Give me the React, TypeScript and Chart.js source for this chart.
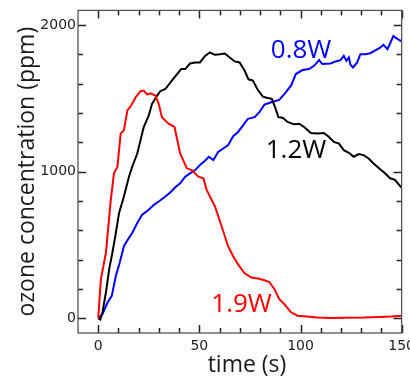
import React, { useEffect, useRef } from "react";
import { Chart, registerables } from "chart.js";

Chart.register(...registerables);

// ---- data (time in s, ozone in ppm) ----
const t19 = [0, 1.3, 3.8, 6.2, 7.8, 9.5, 11.1, 12.7, 14.4, 16, 18.5, 20.9, 22.5, 24.2, 25.8, 28.3, 29.9, 31.5, 34.8, 37.7, 40.5, 43.8, 46.2, 49.5, 52, 53.6, 57.7, 61, 64.2, 66.7, 69.1, 72.4, 75.7, 78.9, 82.2, 84.6, 87.1, 89.5, 92, 95.3, 98.5, 101.8, 108.3, 114.9, 122, 131, 139.4, 145, 150];
const ppm19 = [0, 266, 447, 808, 989, 1034, 1260, 1282, 1418, 1445, 1508, 1549, 1553, 1526, 1535, 1519, 1463, 1372, 1327, 1305, 1124, 1023, 1011, 966, 955, 876, 763, 628, 492, 424, 368, 307, 278, 271, 260, 248, 199, 131, 97, 41, 18, 14, 5, 2, 4, 5, 9, 12, 18];

const t12 = [0, 1, 2.1, 3.8, 5.4, 7, 8.7, 10.3, 12.7, 15.2, 16.8, 19.3, 20.9, 22.5, 25, 26.6, 29.1, 30.7, 33.2, 36.4, 39.7, 41, 43, 45.4, 47.9, 50.3, 52.8, 55.2, 57.7, 60.1, 62.6, 65, 67.5, 69.9, 72.4, 74.3, 76.5, 78.6, 81.4, 83.8, 85.8, 87.4, 89.1, 91.2, 93.6, 96.9, 99.3, 101.8, 105.1, 108.3, 111.6, 114.1, 116.5, 119, 121.4, 123.9, 126.3, 128.8, 131.2, 133.7, 136.1, 139.4, 141.8, 144.3, 146.7, 150];
const ppm12 = [0, -8, 41, 176, 334, 447, 582, 718, 831, 966, 1034, 1124, 1214, 1305, 1384, 1463, 1519, 1549, 1564, 1621, 1677, 1700, 1700, 1738, 1745, 1745, 1790, 1813, 1797, 1801, 1806, 1779, 1752, 1745, 1688, 1630, 1621, 1564, 1512, 1503, 1497, 1440, 1372, 1368, 1339, 1323, 1327, 1305, 1264, 1260, 1264, 1237, 1203, 1192, 1147, 1129, 1102, 1120, 1113, 1090, 1056, 1016, 989, 955, 944, 890];

const t08 = [0, 2.1, 4.6, 6.7, 8.7, 10.6, 12.7, 15.2, 16.8, 19.3, 21.7, 25, 27.5, 29.9, 33.2, 35.6, 38.1, 40.5, 43, 45.4, 47.9, 50.3, 52.8, 54.7, 56.9, 59.3, 61.8, 64.2, 66.7, 69.1, 71.6, 74, 77.3, 79.7, 82.2, 85.5, 89.5, 92.8, 95.3, 97.7, 101, 104.2, 106.7, 109.2, 110.8, 114.9, 117.3, 119.8, 121.4, 122.7, 123.9, 124.7, 126, 128, 129.6, 132, 134.5, 137, 139.4, 141, 143, 145.9, 147.5, 150];
const ppm08 = [0, 29, 108, 153, 289, 379, 492, 549, 582, 650, 707, 740, 774, 797, 831, 858, 894, 921, 966, 989, 1011, 1045, 1075, 1102, 1079, 1135, 1158, 1181, 1242, 1271, 1316, 1361, 1372, 1406, 1458, 1474, 1490, 1542, 1587, 1666, 1693, 1700, 1722, 1761, 1734, 1738, 1752, 1761, 1790, 1756, 1779, 1729, 1711, 1745, 1801, 1801, 1808, 1828, 1846, 1865, 1835, 1925, 1909, 1888];

const seriesNames = ["1.9W", "1.2W", "0.8W"];
const seriesColors = ["#ff0000", "#000000", "#0000ff"];
// label anchor (left, baseline) in data coords
const labelX = [55.9, 82.8, 85.3];
const labelY = [42, 1096, 1776];

const xTickLabels = [0, 50, 100, 150];
const xMinorTicks = [10, 20, 30, 40, 60, 70, 80, 90, 110, 120, 130, 140];
const yTickLabels = [0, 1000, 2000];
const yMinorTicks = [200, 400, 600, 800, 1200, 1400, 1600, 1800];

const xTitle = "time (s)";
const yTitle = "ozone concentration (ppm)";

const FONT = "'Open Sans', 'DejaVu Sans', sans-serif";
const TICK_FONT = "'DejaVu Sans', sans-serif";

const zip = (xs: number[], ys: number[]) => xs.map((x, i) => ({ x, y: ys[i] }));

const tickPlugin = {
  id: "inwardTicks",
  afterDatasetsDraw(chart: any) {
    const { ctx, chartArea, scales } = chart;
    const xs = scales.x;
    const ys = scales.y;
    const { left, right, top, bottom } = chartArea;
    ctx.save();
    ctx.setLineDash([]);
    ctx.globalAlpha = 1;
    ctx.lineCap = "butt";
    ctx.strokeStyle = "#222222";
    ctx.lineWidth = 1.5;
    const major = 8;
    const minor = 5;
    for (const v of xTickLabels.concat(xMinorTicks)) {
      const len = xTickLabels.includes(v) ? major : minor;
      const px = Math.round(xs.getPixelForValue(v)) + 0.5;
      ctx.beginPath();
      ctx.moveTo(px, bottom);
      ctx.lineTo(px, bottom - len);
      ctx.stroke();
      ctx.beginPath();
      ctx.moveTo(px, top);
      ctx.lineTo(px, top + len);
      ctx.stroke();
    }
    for (const v of yTickLabels.concat(yMinorTicks)) {
      const len = yTickLabels.includes(v) ? major : minor;
      const py = Math.round(ys.getPixelForValue(v)) + 0.5;
      ctx.beginPath();
      ctx.moveTo(left, py);
      ctx.lineTo(left + len, py);
      ctx.stroke();
      ctx.beginPath();
      ctx.moveTo(right, py);
      ctx.lineTo(right - len, py);
      ctx.stroke();
    }
    ctx.restore();
  },
};

const framePlugin = {
  id: "frameAndText",
  afterDraw(chart: any) {
    const { ctx, chartArea, scales } = chart;
    const xs = scales.x;
    const ys = scales.y;
    const { left, right, top, bottom } = chartArea;
    ctx.save();
    // frame
    ctx.strokeStyle = "#555";
    ctx.lineWidth = 1.3;
    ctx.strokeRect(left, top, right - left, bottom - top);

    // axis titles
    ctx.fillStyle = "#1a1a1a";
    ctx.font = `23px ${FONT}`;
    ctx.textAlign = "center";
    ctx.textBaseline = "middle";
    ctx.fillText(xTitle, 247, 365);
    ctx.save();
    ctx.translate(27, (top + bottom) / 2);
    ctx.rotate(-Math.PI / 2);
    ctx.fillText(yTitle, 0, 0);
    ctx.restore();

    // series labels
    ctx.font = `26px ${FONT}`;
    ctx.textAlign = "left";
    ctx.textBaseline = "alphabetic";
    seriesNames.forEach((n, i) => {
      ctx.fillStyle = seriesColors[i];
      ctx.fillText(n, xs.getPixelForValue(labelX[i]), ys.getPixelForValue(labelY[i]));
    });
    ctx.restore();
  },
};

export default function App() {
  const ref = useRef<HTMLCanvasElement | null>(null);
  useEffect(() => {
    if (!ref.current) return;
    const chart = new Chart(ref.current, {
      type: "line",
      data: {
        datasets: [
          { label: seriesNames[0], data: zip(t19, ppm19), borderColor: seriesColors[0] },
          { label: seriesNames[1], data: zip(t12, ppm12), borderColor: seriesColors[1] },
          { label: seriesNames[2], data: zip(t08, ppm08), borderColor: seriesColors[2] },
        ].map((d) => ({ ...d, borderWidth: 2, pointRadius: 0, tension: 0, fill: false })),
      },
      options: {
        animation: false,
        responsive: false,
        devicePixelRatio: 1,
        layout: { padding: { left: 0, right: 16, top: 9, bottom: 0 } },
        plugins: { legend: { display: false }, tooltip: { enabled: false } },
        scales: {
          x: {
            type: "linear",
            min: -10,
            max: 150,
            grid: { display: false, drawTicks: false },
            border: { display: false },
            afterBuildTicks: (s: any) => {
              s.ticks = xTickLabels.map((value) => ({ value }));
            },
            afterFit: (s: any) => {
              s.height = 55;
            },
            ticks: {
              autoSkip: false,
              maxRotation: 0,
              padding: 5,
              color: "#222",
              font: { family: TICK_FONT, size: 14 },
              callback: (v: any) => String(v),
            },
          },
          y: {
            type: "linear",
            min: -100,
            max: 2100,
            grid: { display: false, drawTicks: false },
            border: { display: false },
            afterBuildTicks: (s: any) => {
              s.ticks = yTickLabels.map((value) => ({ value }));
            },
            afterFit: (s: any) => {
              s.width = 78;
            },
            ticks: {
              autoSkip: false,
              padding: 2,
              color: "#222",
              font: { family: TICK_FONT, size: 14 },
              callback: (v: any) => String(v),
            },
          },
        },
      },
      plugins: [tickPlugin, framePlugin],
    });
    return () => chart.destroy();
  }, []);
  return (
    <div style={{ position: "fixed", left: 0, top: 0, width: 420, height: 388, background: "#fff" }}>
      <canvas ref={ref} width={420} height={388} style={{ display: "block" }} />
    </div>
  );
}
